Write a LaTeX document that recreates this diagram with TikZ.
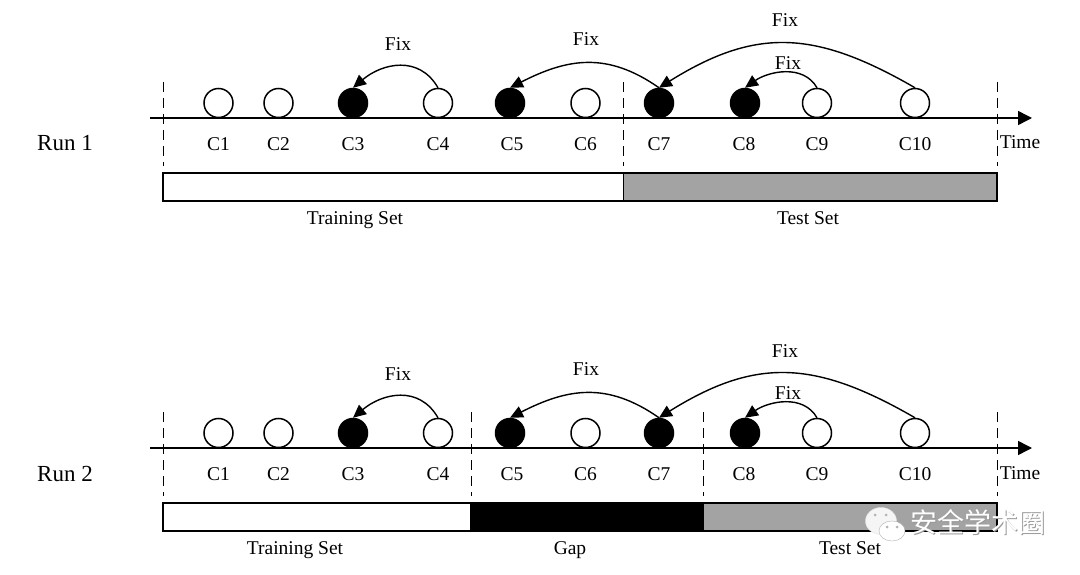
\documentclass[tikz,border=0pt]{standalone}
\usepackage{fontspec}
\usetikzlibrary{arrows.meta,shapes.geometric}
\setmainfont{Liberation Serif}
\newfontfamily\cjk{Noto Sans CJK SC}
\definecolor{setgray}{gray}{0.64}
\begin{document}
\begin{tikzpicture}[
        x=1pt, y=-1pt,
        node distance=43pt,
        >=stealth,
        font=\fontsize{19.5}{22}\selectfont,
        commit/.style={draw, circle, minimum size=29pt, inner sep=0pt, line width=1.5pt, fill=white},
        buggy/.style={commit, fill=black},
        tag/.style={inner sep=0pt, text height=13pt, text depth=4pt},
        runtag/.style={inner sep=0pt, font=\fontsize{23}{25}\selectfont},
        setbar/.style={draw, rectangle, anchor=west, minimum height=28pt, inner sep=0pt, outer sep=0pt, line width=1.5pt},
        axis/.style={-{Stealth[length=14pt, width=14pt, inset=0pt]}, line width=1.5pt},
        fix/.style={-{Stealth[length=13pt, width=12pt, inset=0pt]}, line width=1.4pt},
        split/.style={dash pattern=on 10pt off 6pt, line width=1pt}
    ]
        \useasboundingbox (0,0) rectangle (1080,575);

        % Run 1: axis and splits
        \coordinate (start1) at (150,118);
        \coordinate (stop1) at (1032,118);
        \coordinate (split1_top) at (163,82);
        \coordinate (split1_bot) at (163,166);
        \coordinate (split2_top) at (623.5,82);
        \coordinate (split2_bot) at (623.5,166);
        \coordinate (split3_top) at (997,82);
        \coordinate (split3_bot) at (997,166);
        \draw[split] (split1_top) -- (split1_bot);
        \draw[split] (split2_top) -- (split2_bot);
        \draw[split] (split3_top) -- (split3_bot);
        \draw[axis] (start1) -- (stop1);
        \node (run1) [runtag] at (65,143.5) {Run 1};
        \node (time1) [tag] at (1020,144.5) {Time};

        % Run 1: commits
        \node (c1) [commit] at (218.5,103) {};
        \node (c2) [commit] at (278.5,103) {};
        \node (c3) [buggy] at (353,103) {};
        \node (c4) [commit] at (438,103) {};
        \node (c5) [buggy] at (510,103) {};
        \node (c6) [commit] at (585.5,103) {};
        \node (c7) [buggy] at (659,103) {};
        \node (c8) [buggy] at (745,103) {};
        \node (c9) [commit] at (817,103) {};
        \node (c10) [commit] at (915,103) {};
        \node (c1_label) [tag, below of=c1] {C1};
        \node (c2_label) [tag, below of=c2] {C2};
        \node (c3_label) [tag, below of=c3] {C3};
        \node (c4_label) [tag, below of=c4] {C4};
        \node (c5_label) [tag, below of=c5, xshift=2pt] {C5};
        \node (c6_label) [tag, below of=c6] {C6};
        \node (c7_label) [tag, below of=c7] {C7};
        \node (c8_label) [tag, below of=c8, xshift=-1pt] {C8};
        \node (c9_label) [tag, below of=c9] {C9};
        \node (c10_label) [tag, below of=c10] {C10};

        % Run 1: fixes
        \draw[fix] (c4.north) to[out=120, in=40, looseness=1.15] (c3.north);
        \draw[fix] (c7.north) to[out=145, in=27, looseness=1.1] (c5.north);
        \draw[fix] (c10.north) to[out=150, in=32, looseness=1.15] (c7.north);
        \draw[fix] (c9.north) to[out=120, in=35, looseness=1.0] (c8.north);
        \node (fix1) [tag] at (398,46) {Fix};
        \node (fix2) [tag] at (586,41) {Fix};
        \node (fix3) [tag] at (785,22.5) {Fix};
        \node (fix4) [tag] at (788,65) {Fix};

        % Run 1: sets
        \node (train1) [setbar, fill=white, minimum width=460.5pt] at (163,187) {};
        \node (test1) [setbar, fill=setgray, minimum width=373.5pt] at (623.5,187) {};
        \node (train1_label) [tag] at (355,220) {Training Set};
        \node (test1_label) [tag] at (808,220) {Test Set};

        % Run 2: axis and splits
        \coordinate (start2) at (150,448);
        \coordinate (stop2) at (1032,448);
        \coordinate (split4_top) at (163,412);
        \coordinate (split4_bot) at (163,496);
        \coordinate (split5_top) at (471,412);
        \coordinate (split5_bot) at (471,496);
        \coordinate (split6_top) at (703,412);
        \coordinate (split6_bot) at (703,496);
        \coordinate (split7_top) at (997,412);
        \coordinate (split7_bot) at (997,496);
        \draw[split] (split4_top) -- (split4_bot);
        \draw[split] (split5_top) -- (split5_bot);
        \draw[split] (split6_top) -- (split6_bot);
        \draw[split] (split7_top) -- (split7_bot);
        \draw[axis] (start2) -- (stop2);
        \node (run2) [runtag] at (65,473.5) {Run 2};
        \node (time2) [tag] at (1020,474.5) {Time};

        % Run 2: commits
        \node (r1) [commit] at (218.5,433) {};
        \node (r2) [commit] at (278.5,433) {};
        \node (r3) [buggy] at (353,433) {};
        \node (r4) [commit] at (438,433) {};
        \node (r5) [buggy] at (510,433) {};
        \node (r6) [commit] at (585.5,433) {};
        \node (r7) [buggy] at (659,433) {};
        \node (r8) [buggy] at (745,433) {};
        \node (r9) [commit] at (817,433) {};
        \node (r10) [commit] at (915,433) {};
        \node (r1_label) [tag, below of=r1] {C1};
        \node (r2_label) [tag, below of=r2] {C2};
        \node (r3_label) [tag, below of=r3] {C3};
        \node (r4_label) [tag, below of=r4] {C4};
        \node (r5_label) [tag, below of=r5, xshift=2pt] {C5};
        \node (r6_label) [tag, below of=r6] {C6};
        \node (r7_label) [tag, below of=r7] {C7};
        \node (r8_label) [tag, below of=r8, xshift=-1pt] {C8};
        \node (r9_label) [tag, below of=r9] {C9};
        \node (r10_label) [tag, below of=r10] {C10};

        % Run 2: fixes
        \draw[fix] (r4.north) to[out=120, in=40, looseness=1.15] (r3.north);
        \draw[fix] (r7.north) to[out=145, in=27, looseness=1.1] (r5.north);
        \draw[fix] (r10.north) to[out=150, in=32, looseness=1.15] (r7.north);
        \draw[fix] (r9.north) to[out=120, in=35, looseness=1.0] (r8.north);
        \node (fix5) [tag] at (398,376) {Fix};
        \node (fix6) [tag] at (586,371) {Fix};
        \node (fix7) [tag] at (785,352.5) {Fix};
        \node (fix8) [tag] at (788,395) {Fix};

        % Run 2: sets
        \node (train2) [setbar, fill=white, minimum width=308pt] at (163,517) {};
        \node (gap2) [setbar, fill=black, minimum width=232pt] at (471,517) {};
        \node (test2) [setbar, fill=setgray, minimum width=294pt] at (703,517) {};
        \node (train2_label) [tag] at (295,550) {Training Set};
        \node (gap2_label) [tag] at (570,550) {Gap};
        \node (test2_label) [tag] at (850,550) {Test Set};

        % Watermark
        \node (bubble1) [draw=gray!20, fill=gray!8, ellipse, minimum width=31pt, minimum height=27pt, inner sep=0pt] at (881,521) {};
        \node (bubble2) [draw=gray!60, fill=white, ellipse, minimum width=26pt, minimum height=20pt, inner sep=0pt] at (892,531) {};
        \node (eye1) [fill=gray!60, circle, minimum size=3pt, inner sep=0pt] at (875,515) {};
        \node (eye2) [fill=gray!60, circle, minimum size=3pt, inner sep=0pt] at (886,515) {};
        \node (eye3) [fill=gray!60, circle, minimum size=3pt, inner sep=0pt] at (887,527) {};
        \node (eye4) [fill=gray!60, circle, minimum size=3pt, inner sep=0pt] at (897,527) {};
        \node (mark_shadow) [tag, text=gray!80, font=\cjk\fontsize{27}{29}\selectfont] at (978.7,528.7) {安全学术圈};
        \node (mark) [tag, text=white, font=\cjk\fontsize{27}{29}\selectfont] at (978,528) {安全学术圈};
    \end{tikzpicture}
\end{document}
